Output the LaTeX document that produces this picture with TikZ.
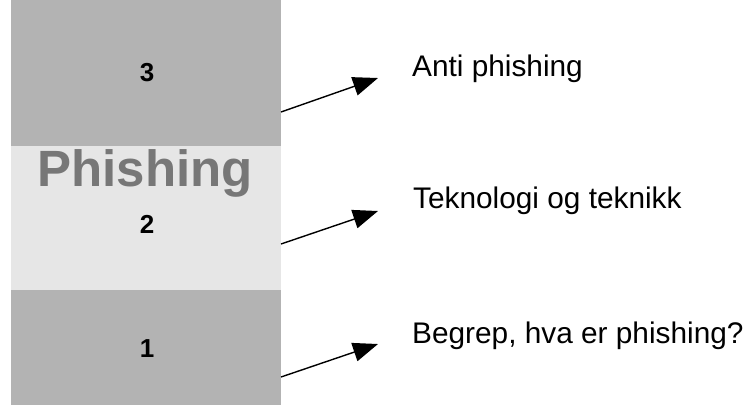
\documentclass[tikz,border=0pt]{standalone}
\usepackage{fontspec}
\setmainfont{Liberation Sans}
\usetikzlibrary{arrows.meta}
\definecolor{darkband}{HTML}{B3B3B3}
\definecolor{lightband}{HTML}{E6E6E6}
\definecolor{titlegray}{HTML}{777777}
\tikzset{
  band/.style={draw=none, inner sep=0pt, minimum width=270pt, anchor=north west},
  levelnum/.style={font=\fontsize{26}{30}\selectfont\bfseries, anchor=base, inner sep=0pt},
  desc/.style={font=\fontsize{29.8}{34}\selectfont, anchor=base west, inner sep=0pt},
  pointer/.style={line width=1.4pt, -{Triangle[length=25pt, width=19pt]}}
}
\begin{document}
\begin{tikzpicture}[x=1pt, y=-1pt]
  \useasboundingbox (0,0) rectangle (746,405);
  % stacked bands
  \node[band, fill=darkband,  minimum height=146pt] (b3) at (11,0) {};
  \node[band, fill=lightband, minimum height=144pt] (b2) at (11,146) {};
  \node[band, fill=darkband,  minimum height=115pt] (b1) at (11,290) {};
  % title and level numbers
  \node[font=\fontsize{51}{58}\selectfont\bfseries, text=titlegray, anchor=base, inner sep=0pt] (title) at (145,186) {Phishing};
  \node[levelnum] (n3) at (147,81) {3};
  \node[levelnum] (n2) at (147,233) {2};
  \node[levelnum] (n1) at (147,357) {1};
  % descriptions
  \node[desc] (d3) at (412,76) {Anti phishing};
  \node[desc] (d2) at (413,208) {Teknologi og teknikk};
  \node[desc] (d1) at (412,343) {Begrep, hva er phishing?};
  % pointer ends
  \coordinate (s3) at (281,112);
  \coordinate (t3) at (378,78);
  \coordinate (s2) at (281,244);
  \coordinate (t2) at (378,211);
  \coordinate (s1) at (281,377);
  \coordinate (t1) at (378,344);
  \draw[pointer] (s3) -- (t3);
  \draw[pointer] (s2) -- (t2);
  \draw[pointer] (s1) -- (t1);
\end{tikzpicture}
\end{document}
